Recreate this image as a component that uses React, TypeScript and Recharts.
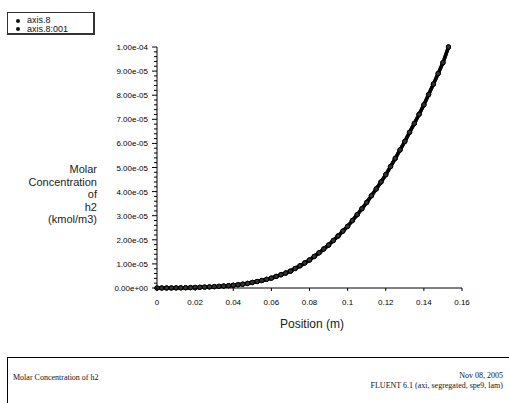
import React from 'react';
import { ComposedChart, Line, XAxis, YAxis } from 'recharts';

// position along the axis (m)
const positions = [
  0, 0.0025, 0.005, 0.0075, 0.01, 0.0125, 0.015, 0.0175, 0.02, 0.0225, 0.025, 0.0275,
  0.03, 0.0325, 0.035, 0.0375, 0.04, 0.0425, 0.045, 0.0475, 0.05, 0.0525, 0.055, 0.0575,
  0.06, 0.0625, 0.065, 0.0675, 0.07, 0.0725, 0.075, 0.0775, 0.08, 0.0825, 0.085, 0.0875,
  0.09, 0.0925, 0.095, 0.0975, 0.1, 0.1025, 0.105, 0.1075, 0.11, 0.1125, 0.115, 0.1175,
  0.12, 0.1225, 0.125, 0.1275, 0.13, 0.1325, 0.135, 0.1375, 0.14, 0.1425, 0.145, 0.1475,
  0.15, 0.1529,
];

// molar concentration of h2 (kmol/m3)
const axis8 = [
  0, 0, 0, 0.02e-6, 0.04e-6, 0.07e-6, 0.11e-6, 0.16e-6, 0.22e-6, 0.29e-6, 0.37e-6, 0.46e-6,
  0.56e-6, 0.68e-6, 0.81e-6, 0.96e-6, 1.13e-6, 1.35e-6, 1.6e-6, 1.9e-6, 2.3e-6, 2.7e-6, 3.1e-6, 3.6e-6,
  4.1e-6, 4.8e-6, 5.5e-6, 6.2e-6, 7.0e-6, 8.1e-6, 9.2e-6, 10.4e-6, 11.6e-6, 13.1e-6, 14.6e-6, 16.2e-6,
  17.8e-6, 19.7e-6, 21.6e-6, 23.6e-6, 25.6e-6, 28.0e-6, 30.4e-6, 32.9e-6, 35.5e-6, 38.3e-6, 41.1e-6, 44.0e-6,
  47.0e-6, 50.4e-6, 53.8e-6, 57.3e-6, 60.8e-6, 64.6e-6, 68.3e-6, 72.1e-6, 76.0e-6, 80.3e-6, 84.6e-6, 89.0e-6,
  93.5e-6, 100e-6,
];
const axis8001 = axis8;

const seriesNames = ['axis.8', 'axis.8:001'];

const xTicks = [0, 0.02, 0.04, 0.06, 0.08, 0.1, 0.12, 0.14, 0.16];
const xTickLabels = ['0', '0.02', '0.04', '0.06', '0.08', '0.1', '0.12', '0.14', '0.16'];

const yTickLabels = [
  '0.00e+00', '1.00e-05', '2.00e-05', '3.00e-05', '4.00e-05', '5.00e-05',
  '6.00e-05', '7.00e-05', '8.00e-05', '9.00e-05', '1.00e-04',
];

const yLabelLines = ['Molar', 'Concentration', 'of', 'h2', '(kmol/m3)'];

const data = positions.map((x, i) => ({ x, a: axis8[i], b: axis8001[i] }));

// major tick every 1e-5, four minor ticks in between
const yTicks = Array.from({ length: 51 }, (_, i) => (i * 1e-4) / 50);

const tickFont = { fontFamily: 'Liberation Sans, Arial, sans-serif', fontSize: 8, fill: '#000' };

const XTick = (props: any) => {
  const { x, y, index } = props;
  return (
    <g>
      <line x1={x} x2={x} y1={y} y2={y + 3} stroke="#000" />
      <text x={x} y={y + 17} textAnchor="middle" style={tickFont}>
        {xTickLabels[index]}
      </text>
    </g>
  );
};

const YTick = (props: any) => {
  const { x, y, index } = props;
  const major = index % 5 === 0;
  return (
    <g>
      <line x1={x - (major ? 5 : 3)} x2={x} y1={y} y2={y} stroke="#000" />
      {major && (
        <text x={x - 9} y={y + 3} textAnchor="end" style={tickFont}>
          {yTickLabels[index / 5]}
        </text>
      )}
    </g>
  );
};

const dotStyle = { r: 2.2, stroke: '#000', strokeWidth: 1, fill: '#333' };

const App = () => {
  return (
    <div style={{ position: 'absolute', left: 0, top: 0, width: 509, height: 403, background: '#fff' }}>
      <ComposedChart width={509} height={403} data={data} margin={{ top: 47, right: 47, bottom: 85, left: 97 }}>
        <XAxis
          type="number"
          dataKey="x"
          domain={[0, 0.16]}
          ticks={xTicks}
          interval={0}
          tickSize={0}
          tickMargin={0}
          height={30}
          tick={<XTick />}
          axisLine={{ stroke: '#000' }}
          tickLine={false}
        />
        <YAxis
          type="number"
          domain={[0, 1e-4]}
          ticks={yTicks}
          interval={0}
          tickSize={0}
          tickMargin={0}
          width={60}
          tick={<YTick />}
          axisLine={{ stroke: '#000' }}
          tickLine={false}
        />
        <Line
          dataKey="a"
          name={seriesNames[0]}
          type="monotone"
          stroke="#000"
          strokeWidth={3.5}
          dot={dotStyle}
          isAnimationActive={false}
        />
        <Line
          dataKey="b"
          name={seriesNames[1]}
          type="monotone"
          stroke="#000"
          strokeWidth={3.5}
          dot={dotStyle}
          isAnimationActive={false}
        />
      </ComposedChart>

      {/* legend box */}
      <div
        style={{
          position: 'absolute', left: 7, top: 12, width: 85, height: 20,
          border: '1px solid #333', borderRightWidth: 2, borderBottomWidth: 2,
          fontFamily: 'Liberation Sans, Arial, sans-serif', fontSize: 9, lineHeight: '8px', color: '#111',
        }}
      >
        {seriesNames.map((n, i) => (
          <div key={n} style={{ position: 'absolute', left: 8, top: 3 + i * 8.5, whiteSpace: 'nowrap' }}>
            <span style={{ display: 'inline-block', width: 4, height: 4, borderRadius: 2, background: '#111', marginRight: 7, verticalAlign: 'middle' }} />
            {n}
          </div>
        ))}
      </div>

      {/* y axis title */}
      <div
        style={{
          position: 'absolute', right: 509 - 97, top: 163, textAlign: 'right',
          fontFamily: 'Liberation Sans, Arial, sans-serif', fontSize: 11, lineHeight: '12.5px', color: '#222',
        }}
      >
        {yLabelLines.map((l) => (
          <div key={l}>{l}</div>
        ))}
      </div>

      {/* x axis title */}
      <div
        style={{
          position: 'absolute', left: 210, width: 204, top: 317, textAlign: 'center',
          fontFamily: 'Liberation Sans, Arial, sans-serif', fontSize: 12, color: '#222',
        }}
      >
        Position (m)
      </div>

      {/* footer */}
      <div style={{ position: 'absolute', left: 7, top: 357, width: 502, height: 46, borderTop: '1px solid #000', borderLeft: '1px solid #000' }} />
      <div style={{ position: 'absolute', left: 13, top: 373, fontFamily: 'Liberation Serif, serif', fontSize: 8, color: '#111' }}>
        Molar Concentration of h2
      </div>
      <div style={{ position: 'absolute', right: 6, top: 371, textAlign: 'right', fontFamily: 'Liberation Serif, serif', fontSize: 8, lineHeight: '10px', color: '#111' }}>
        <div>Nov 08, 2005</div>
        <div>FLUENT 6.1 (axi, segregated, spe9, lam)</div>
      </div>
    </div>
  );
};

export default App;
